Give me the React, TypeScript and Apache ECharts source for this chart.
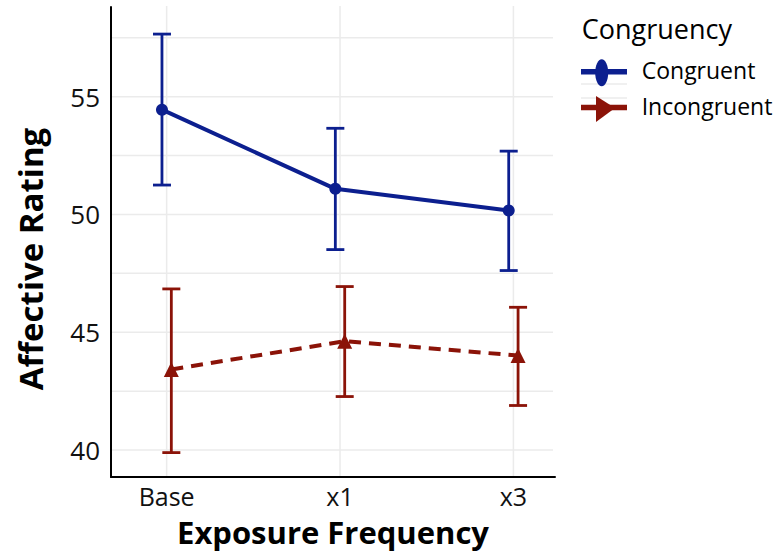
import React, { useEffect, useRef } from "react";
import * as echarts from "echarts";

const categories = ["Base", "x1", "x3"];
const seriesNames = ["Congruent", "Incongruent"];
const congruentMean = [54.45, 51.09, 50.17];
const congruentLow = [51.25, 48.51, 47.62];
const congruentHigh = [57.66, 53.66, 52.69];
const incongruentMean = [43.42, 44.62, 44.01];
const incongruentLow = [39.89, 42.27, 41.89];
const incongruentHigh = [46.84, 46.94, 46.06];
const yTickLabels = [40, 45, 50, 55];
const yGridValues = [40, 42.5, 45, 47.5, 50, 52.5, 55, 57.5];

const BLUE = "#0c1f8f";
const RED = "#8b1308";
const DODGE = 0.027;
const FONT = "'Open Sans', 'Noto Sans', sans-serif";

export default function App() {
  const ref = useRef<HTMLDivElement>(null);
  useEffect(() => {
    document.body.style.margin = "0";
    const chart = echarts.init(ref.current!, undefined, { renderer: "svg" });

    const errorBarSeries = (name: string, low: number[], high: number[], dodge: number, color: string) => ({
      type: "custom",
      name: name + " error",
      z: 2,
      data: low.map((l, i) => [i + dodge, l, high[i]]),
      encode: { x: 0, y: [1, 2] },
      renderItem: (params: any, api: any) => {
        const x = api.value(0);
        const pLo = api.coord([x, api.value(1)]);
        const pHi = api.coord([x, api.value(2)]);
        const hw = 9;
        const style = { stroke: color, lineWidth: 2.8 };
        return {
          type: "group",
          children: [
            { type: "line", shape: { x1: pLo[0], y1: pLo[1], x2: pHi[0], y2: pHi[1] }, style },
            { type: "line", shape: { x1: pLo[0] - hw, y1: pLo[1], x2: pLo[0] + hw, y2: pLo[1] }, style },
            { type: "line", shape: { x1: pHi[0] - hw, y1: pHi[1], x2: pHi[0] + hw, y2: pHi[1] }, style },
          ],
        };
      },
    });

    const gridColor = "#ebebeb";

    const option: any = {
      animation: false,
      grid: { left: 111, right: 224, top: 7, bottom: 77, containLabel: false },
      xAxis: {
        type: "value",
        min: -0.321,
        max: 2.24,
        splitLine: { show: false },
        axisTick: { show: false },
        axisLine: { show: true, onZero: false, lineStyle: { color: "#000", width: 2 } },
        axisLabel: {
          customValues: [0, 1, 2],
          formatter: (v: number) => categories[Math.round(v)] ?? "",
          fontFamily: FONT,
          fontSize: 25,
          lineHeight: 25,
          color: "#111",
          margin: 6,
        },
        name: "Exposure Frequency",
        nameLocation: "middle",
        nameGap: 39.5,
        nameTextStyle: { fontFamily: FONT, fontSize: 31, lineHeight: 31, fontWeight: "bold", color: "#000" },
      },
      yAxis: {
        type: "value",
        min: 38.854,
        max: 58.81,
        splitLine: { show: false },
        axisTick: { show: false },
        axisLine: { show: true, onZero: false, lineStyle: { color: "#000", width: 2 } },
        axisLabel: {
          customValues: yTickLabels,
          fontFamily: FONT,
          fontSize: 26,
          color: "#111",
          margin: 11,
        },
      },
      graphic: [
        {
          type: "text",
          x: 30,
          y: 259,
          rotation: Math.PI / 2,
          style: {
            text: "Affective Rating",
            font: `bold 33px ${FONT}`,
            fill: "#000",
            align: "center",
            verticalAlign: "middle",
          },
        },
        {
          type: "text",
          x: 581.7,
          y: 28,
          style: { text: "Congruency", font: `27px ${FONT}`, fill: "#000", align: "left", verticalAlign: "middle" },
        },
        { type: "line", shape: { x1: 581, y1: 84, x2: 627, y2: 84 }, style: { stroke: gridColor, lineWidth: 1.5 } },
        { type: "line", shape: { x1: 581, y1: 98, x2: 627, y2: 98 }, style: { stroke: gridColor, lineWidth: 1.5 } },
        { type: "line", shape: { x1: 581, y1: 71.7, x2: 627, y2: 71.7 }, style: { stroke: BLUE, lineWidth: 5.5 } },
        { type: "ellipse", shape: { cx: 601.7, cy: 72.7, rx: 6.5, ry: 13.5 }, style: { fill: BLUE } },
        { type: "line", shape: { x1: 581, y1: 107.5, x2: 627, y2: 107.5 }, style: { stroke: RED, lineWidth: 5.5 } },
        {
          type: "polygon",
          shape: { points: [[596, 96], [596, 122], [615, 108]] },
          style: { fill: RED },
        },
        {
          type: "text",
          x: 641.7,
          y: 70.4,
          style: { text: seriesNames[0], font: `23px ${FONT}`, fill: "#000", align: "left", verticalAlign: "middle" },
        },
        {
          type: "text",
          x: 641.7,
          y: 106.1,
          style: { text: seriesNames[1], font: `23px ${FONT}`, fill: "#000", align: "left", verticalAlign: "middle" },
        },
      ],
      series: [
        {
          type: "custom",
          name: "hgrid",
          z: 0,
          silent: true,
          data: yGridValues.map((v) => [0, v]),
          renderItem: (params: any, api: any) => {
            const cs = params.coordSys;
            const y = api.coord([0, api.value(1)])[1];
            return {
              type: "line",
              shape: { x1: cs.x, y1: y, x2: cs.x + cs.width - 2, y2: y },
              style: { stroke: gridColor, lineWidth: 1.5 },
            };
          },
        },
        {
          type: "custom",
          name: "vgrid",
          z: 0,
          silent: true,
          data: categories.map((_, i) => [i, 40]),
          renderItem: (params: any, api: any) => {
            const cs = params.coordSys;
            const x = api.coord([api.value(0), 40])[0];
            return {
              type: "line",
              shape: { x1: x, y1: cs.y - 1, x2: x, y2: cs.y + cs.height },
              style: { stroke: gridColor, lineWidth: 1.5 },
            };
          },
        },
        errorBarSeries(seriesNames[0], congruentLow, congruentHigh, -DODGE, BLUE),
        errorBarSeries(seriesNames[1], incongruentLow, incongruentHigh, DODGE, RED),
        {
          type: "line",
          name: seriesNames[0],
          z: 3,
          data: congruentMean.map((v, i) => [i - DODGE, v]),
          symbol: "circle",
          symbolSize: 12,
          lineStyle: { color: BLUE, width: 4 },
          itemStyle: { color: BLUE },
        },
        {
          type: "line",
          name: seriesNames[1],
          z: 3,
          data: incongruentMean.map((v, i) => [i + DODGE, v]),
          symbol: "triangle",
          symbolSize: 15,
          lineStyle: { color: RED, width: 4, type: [12, 8] },
          itemStyle: { color: RED },
        },
      ],
    };
    chart.setOption(option);
    return () => chart.dispose();
  }, []);
  return <div ref={ref} style={{ width: 779, height: 554 }} />;
}
